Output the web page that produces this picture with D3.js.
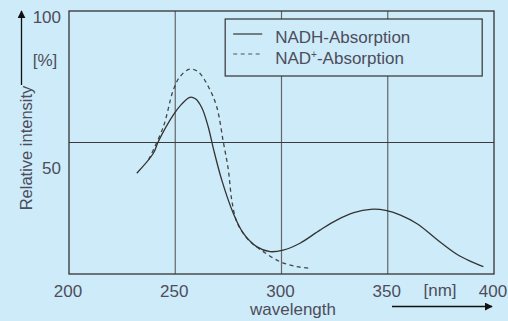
<!DOCTYPE html>
<html>
<head>
<meta charset="utf-8">
<script src="https://cdn.jsdelivr.net/npm/d3@7"></script>
<style>
  html, body { margin: 0; padding: 0; background: #cdebf8; }
  svg { display: block; }
  text { font-family: "Liberation Sans", Arial, sans-serif; fill: #4d4d5c; }
</style>
</head>
<body>
<div id="chart"></div>
<script>
// Data
const xTicks = [200, 250, 300, 350, 400];
const yTicks = [50, 100];

// NADH absorption (solid)
const nadhWave = [231.9, 239.7, 242.0, 249.1, 253.0, 256.9, 259.5, 262.5, 265.5, 268.0, 271.9,
                  277.3, 282.0, 288.3, 294.6, 300.8, 308.7, 318.1, 326.0, 334.0, 342.0, 349.0,
                  356.0, 364.0, 373.0, 382.5, 389.0, 395.0];
const nadhValue = [38.3, 45.9, 50.3, 60.5, 64.6, 67.2, 66.6, 63.2, 56.0, 47.5, 35.7,
                   23.1, 15.5, 10.4, 8.5, 9.1, 11.7, 16.7, 20.5, 23.3, 24.6, 24.2,
                   22.4, 19.0, 13.2, 7.5, 4.8, 2.8];

// NAD+ absorption (dashed)
const nadWave = [237.5, 244.4, 249.1, 252.2, 256.9, 260.8, 265.6, 269.5, 272.6, 275.0, 276.6,
                 278.9, 282.0, 285.2, 291.4, 299.3, 307.2, 313.4];
const nadValue = [43.5, 56.0, 70.0, 75.0, 77.9, 76.9, 71.2, 63.6, 50.3, 39.5, 28.1,
                  19.9, 15.5, 12.3, 8.5, 4.7, 2.8, 2.2];

const width = 508;
const height = 321;
const margin = {top: 11, left: 69, right: 14, bottom: 47};
const innerWidth = width - margin.left - margin.right;
const innerHeight = height - margin.top - margin.bottom;

const ink = "#333";
const grid = "#666";

const svg = d3.select("#chart")
    .append("svg")
        .attr("width", width)
        .attr("height", height);

const innerChart = svg
    .append("g")
        .attr("transform", `translate(${margin.left}, ${margin.top})`);

// Scales
const xScale = d3.scaleLinear()
    .domain([200, 400])
    .range([0, innerWidth]);
const yScale = d3.scaleLinear()
    .domain([0, 100])
    .range([innerHeight, 0]);

// Vertical gridlines (inner ticks only)
innerChart.selectAll(".grid-x")
    .data(xTicks.slice(1, -1))
    .enter()
    .append("line")
        .attr("class", "grid-x")
        .attr("x1", d => xScale(d))
        .attr("x2", d => xScale(d))
        .attr("y1", 0)
        .attr("y2", innerHeight)
        .attr("stroke", grid)
        .attr("stroke-width", 1.2);

// Horizontal gridline at 50
innerChart.append("line")
    .attr("x1", 0)
    .attr("x2", innerWidth)
    .attr("y1", yScale(50))
    .attr("y2", yScale(50))
    .attr("stroke", "#3a3a3a")
    .attr("stroke-width", 1.2);

// Frame
innerChart.append("rect")
    .attr("width", innerWidth)
    .attr("height", innerHeight)
    .attr("fill", "none")
    .attr("stroke", ink)
    .attr("stroke-width", 1.3);

// Legend box (covers gridlines)
const legend = innerChart.append("g")
    .attr("transform", `translate(${xScale(273.5)}, 8)`);
legend.append("rect")
    .attr("width", 257)
    .attr("height", 57)
    .attr("fill", "#cdebf8")
    .attr("stroke", ink)
    .attr("stroke-width", 1.2);
legend.append("line")
    .attr("x1", 8).attr("x2", 37)
    .attr("y1", 15).attr("y2", 15)
    .attr("stroke", ink).attr("stroke-width", 1.2);
legend.append("line")
    .attr("x1", 8).attr("x2", 37)
    .attr("y1", 35).attr("y2", 35)
    .attr("stroke", "#555").attr("stroke-width", 1.2)
    .attr("stroke-dasharray", "4,3.5");
legend.append("text")
    .attr("x", 50).attr("y", 24)
    .style("font-size", "17px")
    .text("NADH-Absorption");
const nadText = legend.append("text")
    .attr("x", 50).attr("y", 45)
    .style("font-size", "17px");
nadText.append("tspan").text("NAD");
nadText.append("tspan")
    .attr("dy", -6)
    .style("font-size", "10px")
    .text("+");
nadText.append("tspan")
    .attr("dy", 6)
    .text("-Absorption");

// Curves
const line = d3.line()
    .x(d => xScale(d[0]))
    .y(d => yScale(d[1]))
    .curve(d3.curveCatmullRom.alpha(0.5));

innerChart.append("path")
    .datum(d3.zip(nadWave, nadValue))
    .attr("d", line)
    .attr("fill", "none")
    .attr("stroke", "#444")
    .attr("stroke-width", 1.3)
    .attr("stroke-dasharray", "4,3.5");

innerChart.append("path")
    .datum(d3.zip(nadhWave, nadhValue))
    .attr("d", line)
    .attr("fill", "none")
    .attr("stroke", ink)
    .attr("stroke-width", 1.3);

// X tick labels
innerChart.selectAll(".x-label")
    .data(xTicks)
    .enter()
    .append("text")
        .attr("class", "x-label")
        .attr("x", d => xScale(d) - 1)
        .attr("y", innerHeight + 23)
        .attr("text-anchor", "middle")
        .style("font-size", "17px")
        .text(d => d);

// Y tick labels (placed a little below their lines, as in the original)
innerChart.selectAll(".y-label")
    .data(yTicks)
    .enter()
    .append("text")
        .attr("class", "y-label")
        .attr("x", -8)
        .attr("y", d => yScale(d) + (d === 100 ? 11.5 : 31))
        .attr("text-anchor", "end")
        .style("font-size", "17px")
        .text(d => d);

// Units
svg.append("text")
    .attr("x", 45).attr("y", 66)
    .attr("text-anchor", "middle")
    .style("font-size", "17px")
    .text("[%]");
svg.append("text")
    .attr("x", 440).attr("y", 296)
    .attr("text-anchor", "middle")
    .style("font-size", "17px")
    .text("[nm]");

// Axis titles
svg.append("text")
    .attr("x", 293).attr("y", 315)
    .attr("text-anchor", "middle")
    .style("font-size", "17px")
    .text("wavelength");
svg.append("text")
    .attr("transform", "translate(32, 148) rotate(-90)")
    .attr("text-anchor", "middle")
    .style("font-size", "16.5px")
    .text("Relative intensity");

// Arrows
const defs = svg.append("defs");
defs.append("marker")
    .attr("id", "arrow")
    .attr("viewBox", "0 0 10 10")
    .attr("refX", 9).attr("refY", 5)
    .attr("markerWidth", 8).attr("markerHeight", 8)
    .attr("markerUnits", "userSpaceOnUse")
    .attr("orient", "auto")
    .append("path")
        .attr("d", "M0,0 L10,5 L0,10 Z")
        .attr("fill", "#111");

svg.append("line")
    .attr("x1", 21.5).attr("x2", 21.5)
    .attr("y1", 85).attr("y2", 11)
    .attr("stroke", "#111").attr("stroke-width", 1.3)
    .attr("marker-end", "url(#arrow)");
svg.append("line")
    .attr("x1", 392).attr("x2", 492)
    .attr("y1", 306.5).attr("y2", 306.5)
    .attr("stroke", "#111").attr("stroke-width", 1.3)
    .attr("marker-end", "url(#arrow)");
</script>
</body>
</html>
